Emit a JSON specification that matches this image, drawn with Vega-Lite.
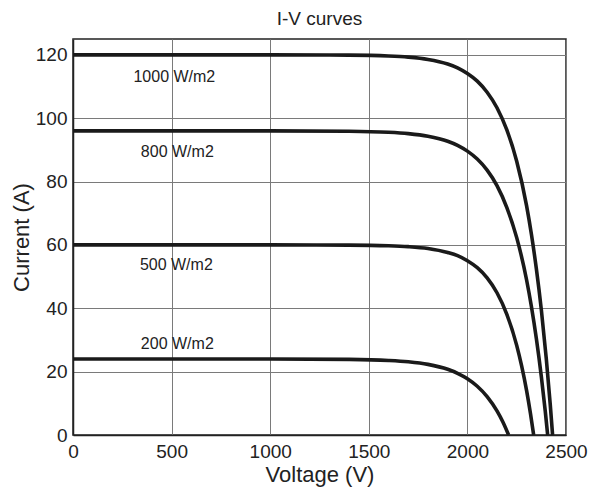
{
  "$schema": "https://vega.github.io/schema/vega-lite/v6.json",
  "autosize": {"type": "none"},
  "width": 493,
  "height": 396,
  "padding": {"left": 73, "top": 39, "right": 37, "bottom": 57},
  "background": "white",
  "config": {
    "font": "Liberation Sans",
    "view": {"stroke": "#222222", "strokeWidth": 1.5},
    "axis": {
      "domainColor": "#222222",
      "domainWidth": 1.5,
      "gridColor": "#7a7a7a",
      "gridWidth": 1,
      "ticks": false,
      "labelFont": "Liberation Sans",
      "labelFontSize": 19,
      "labelColor": "#222222",
      "titleFont": "Liberation Sans",
      "titleFontSize": 22,
      "titleFontWeight": "normal",
      "titleColor": "#222222"
    },
    "title": {"font": "Liberation Sans", "fontSize": 19, "fontWeight": "normal", "color": "#222222", "offset": 10}
  },
  "title": {"text": "I-V curves"},
  "datasets": {
    "curves": [
      {"irr": "1000", "V": 0, "I": 120},
      {"irr": "1000", "V": 500, "I": 120},
      {"irr": "1000", "V": 1000, "I": 120},
      {"irr": "1000", "V": 1400, "I": 119.91},
      {"irr": "1000", "V": 1600, "I": 119.64},
      {"irr": "1000", "V": 1700, "I": 119.28},
      {"irr": "1000", "V": 1800, "I": 118.56},
      {"irr": "1000", "V": 1900, "I": 117.1},
      {"irr": "1000", "V": 1950, "I": 115.9},
      {"irr": "1000", "V": 2000, "I": 114.1},
      {"irr": "1000", "V": 2050, "I": 111.7},
      {"irr": "1000", "V": 2100, "I": 108.2},
      {"irr": "1000", "V": 2150, "I": 103.3},
      {"irr": "1000", "V": 2200, "I": 96.3},
      {"irr": "1000", "V": 2250, "I": 86.4},
      {"irr": "1000", "V": 2300, "I": 72.4},
      {"irr": "1000", "V": 2325, "I": 63.2},
      {"irr": "1000", "V": 2350, "I": 52.3},
      {"irr": "1000", "V": 2375, "I": 39.5},
      {"irr": "1000", "V": 2400, "I": 24.1},
      {"irr": "1000", "V": 2420, "I": 9.7},
      {"irr": "1000", "V": 2432, "I": 0},
      {"irr": "800", "V": 0, "I": 96},
      {"irr": "800", "V": 500, "I": 96},
      {"irr": "800", "V": 1000, "I": 96},
      {"irr": "800", "V": 1400, "I": 95.88},
      {"irr": "800", "V": 1600, "I": 95.56},
      {"irr": "800", "V": 1700, "I": 95.14},
      {"irr": "800", "V": 1800, "I": 94.32},
      {"irr": "800", "V": 1900, "I": 92.74},
      {"irr": "800", "V": 1950, "I": 91.44},
      {"irr": "800", "V": 2000, "I": 89.6},
      {"irr": "800", "V": 2050, "I": 87.1},
      {"irr": "800", "V": 2100, "I": 83.6},
      {"irr": "800", "V": 2150, "I": 78.7},
      {"irr": "800", "V": 2200, "I": 71.8},
      {"irr": "800", "V": 2250, "I": 62.3},
      {"irr": "800", "V": 2300, "I": 49.0},
      {"irr": "800", "V": 2325, "I": 40.4},
      {"irr": "800", "V": 2350, "I": 30.3},
      {"irr": "800", "V": 2375, "I": 18.4},
      {"irr": "800", "V": 2395, "I": 7.4},
      {"irr": "800", "V": 2407, "I": 0},
      {"irr": "500", "V": 0, "I": 60},
      {"irr": "500", "V": 500, "I": 60},
      {"irr": "500", "V": 1000, "I": 60},
      {"irr": "500", "V": 1400, "I": 59.94},
      {"irr": "500", "V": 1600, "I": 59.74},
      {"irr": "500", "V": 1700, "I": 59.46},
      {"irr": "500", "V": 1800, "I": 58.87},
      {"irr": "500", "V": 1900, "I": 57.6},
      {"irr": "500", "V": 1950, "I": 56.6},
      {"irr": "500", "V": 2000, "I": 55.0},
      {"irr": "500", "V": 2050, "I": 52.8},
      {"irr": "500", "V": 2100, "I": 49.6},
      {"irr": "500", "V": 2150, "I": 44.9},
      {"irr": "500", "V": 2200, "I": 38.1},
      {"irr": "500", "V": 2250, "I": 28.3},
      {"irr": "500", "V": 2275, "I": 21.8},
      {"irr": "500", "V": 2300, "I": 14.1},
      {"irr": "500", "V": 2320, "I": 6.7},
      {"irr": "500", "V": 2336, "I": 0},
      {"irr": "200", "V": 0, "I": 24},
      {"irr": "200", "V": 500, "I": 24},
      {"irr": "200", "V": 1000, "I": 24},
      {"irr": "200", "V": 1400, "I": 23.87},
      {"irr": "200", "V": 1600, "I": 23.53},
      {"irr": "200", "V": 1700, "I": 23.1},
      {"irr": "200", "V": 1800, "I": 22.29},
      {"irr": "200", "V": 1900, "I": 20.74},
      {"irr": "200", "V": 1950, "I": 19.49},
      {"irr": "200", "V": 2000, "I": 17.77},
      {"irr": "200", "V": 2050, "I": 15.4},
      {"irr": "200", "V": 2100, "I": 12.12},
      {"irr": "200", "V": 2150, "I": 7.6},
      {"irr": "200", "V": 2180, "I": 4.1},
      {"irr": "200", "V": 2209, "I": 0}
    ],
    "labels": [
      {"label": "1000 W/m2", "V": 514, "I": 112.9},
      {"label": "800 W/m2", "V": 529, "I": 89.3},
      {"label": "500 W/m2", "V": 524, "I": 53.6},
      {"label": "200 W/m2", "V": 529, "I": 28.7}
    ]
  },
  "layer": [
    {
      "data": {"name": "curves"},
      "mark": {"type": "line", "interpolate": "monotone", "color": "#1a1a1a", "strokeWidth": 3.6, "clip": true},
      "encoding": {
        "x": {
          "field": "V", "type": "quantitative",
          "scale": {"domain": [0, 2500], "nice": false, "zero": false},
          "axis": {"title": "Voltage (V)", "values": [0, 500, 1000, 1500, 2000, 2500], "format": "d", "labelPadding": 7, "titlePadding": 3, "labelFlush": false}
        },
        "y": {
          "field": "I", "type": "quantitative",
          "scale": {"domain": [0, 125], "nice": false, "zero": false},
          "axis": {"title": "Current (A)", "values": [0, 20, 40, 60, 80, 100, 120], "format": "d", "labelPadding": 6, "titlePadding": 2, "labelFlush": false}
        },
        "detail": {"field": "irr", "type": "nominal"}
      }
    },
    {
      "data": {"name": "labels"},
      "mark": {"type": "text", "font": "Liberation Sans", "fontSize": 16, "color": "#222222", "align": "center", "baseline": "middle"},
      "encoding": {
        "x": {"field": "V", "type": "quantitative"},
        "y": {"field": "I", "type": "quantitative"},
        "text": {"field": "label", "type": "nominal"}
      }
    }
  ]
}
